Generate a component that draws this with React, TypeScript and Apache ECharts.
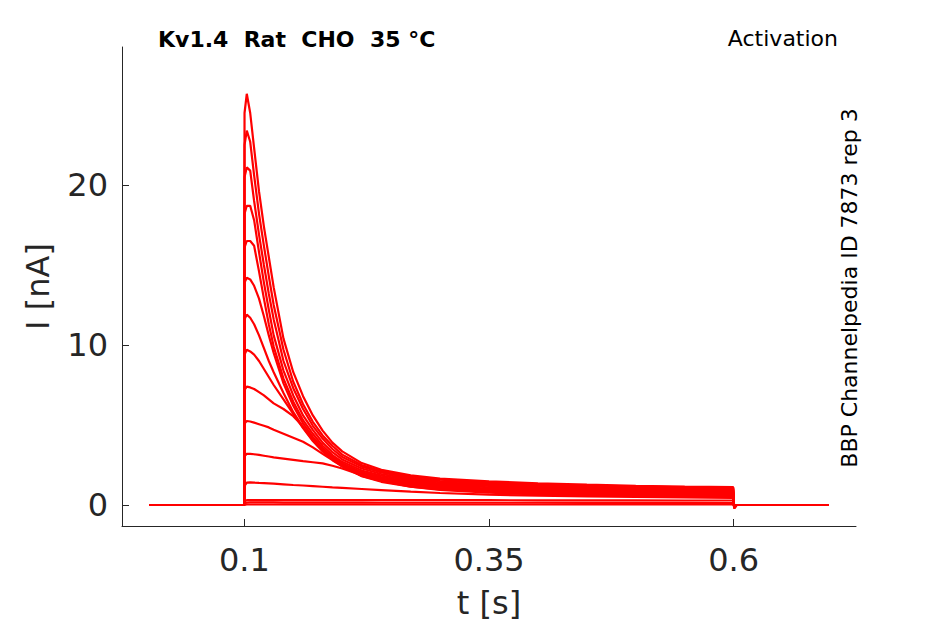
import React, { useEffect, useRef } from "react";
import * as echarts from "echarts";

const TITLE = "Kv1.4  Rat  CHO  35 °C";
const PROTOCOL = "Activation";
const SOURCE = "BBP Channelpedia ID 7873 rep 3";
const X_NAME = "t [s]";
const Y_NAME = "I [nA]";
const X_TICKS = [0.1, 0.35, 0.6];
const Y_TICKS = [0, 10, 20];

// time samples (s)
const TIME = [0.003, 0.0998, 0.1002, 0.1025, 0.106, 0.11, 0.115, 0.12, 0.125, 0.13, 0.14, 0.15, 0.16, 0.17, 0.18, 0.19, 0.2, 0.22, 0.24, 0.27, 0.3, 0.35, 0.4, 0.45, 0.5, 0.55, 0.5995, 0.6005, 0.603, 0.697];

// current sweeps (nA)
const sweep1 = [0, 0, 24.5, 25.7, 24.5, 22.3, 19.6, 17.4, 15.5, 13.6, 10.4, 8.3, 6.8, 5.6, 4.65, 3.9, 3.35, 2.62, 2.2, 1.85, 1.65, 1.48, 1.35, 1.27, 1.2, 1.15, 1.12, -0.2, 0, 0];
const sweep2 = [0, 0, 22.5, 23.4, 22.7, 20.6, 18.2, 16.2, 14.3, 12.5, 9.7, 7.7, 6.3, 5.2, 4.35, 3.7, 3.15, 2.5, 2.12, 1.78, 1.58, 1.42, 1.3, 1.22, 1.16, 1.11, 1.08, -0.2, 0, 0];
const sweep3 = [0, 0, 20.5, 21.1, 20.9, 19.0, 16.9, 15.0, 13.2, 11.6, 9.0, 7.3, 6.0, 4.95, 4.15, 3.5, 3.0, 2.4, 2.04, 1.7, 1.5, 1.35, 1.24, 1.16, 1.1, 1.06, 1.03, -0.2, 0, 0];
const sweep4 = [0, 0, 18.2, 18.7, 18.7, 17.8, 15.8, 13.9, 12.2, 10.6, 8.4, 6.85, 5.6, 4.7, 3.9, 3.3, 2.85, 2.28, 1.94, 1.62, 1.42, 1.27, 1.17, 1.1, 1.04, 1.0, 0.97, -0.2, 0, 0];
const sweep5 = [0, 0, 16.1, 16.5, 16.5, 16.2, 14.6, 12.9, 11.3, 9.9, 7.9, 6.45, 5.3, 4.45, 3.7, 3.12, 2.7, 2.15, 1.84, 1.54, 1.34, 1.19, 1.09, 1.03, 0.97, 0.93, 0.9, -0.2, 0, 0];
const sweep6 = [0, 0, 13.9, 14.2, 14.1, 13.7, 12.9, 11.8, 10.6, 9.5, 7.6, 6.2, 5.1, 4.25, 3.55, 3.0, 2.6, 2.05, 1.74, 1.45, 1.26, 1.11, 1.01, 0.95, 0.9, 0.86, 0.83, -0.15, 0, 0];
const sweep7 = [0, 0, 11.6, 11.9, 11.7, 11.3, 10.6, 9.8, 9.0, 8.3, 7.0, 5.8, 4.85, 4.05, 3.4, 2.9, 2.5, 1.96, 1.65, 1.37, 1.18, 1.03, 0.93, 0.87, 0.82, 0.78, 0.76, -0.15, 0, 0];
const sweep8 = [0, 0, 9.4, 9.7, 9.6, 9.4, 9.0, 8.5, 8.0, 7.5, 6.6, 5.7, 4.8, 4.0, 3.35, 2.85, 2.42, 1.88, 1.57, 1.29, 1.1, 0.96, 0.86, 0.8, 0.75, 0.71, 0.69, -0.15, 0, 0];
const sweep9 = [0, 0, 7.2, 7.4, 7.35, 7.25, 7.05, 6.85, 6.6, 6.35, 6.0, 5.55, 4.9, 4.15, 3.45, 2.9, 2.42, 1.82, 1.5, 1.22, 1.03, 0.89, 0.79, 0.73, 0.68, 0.65, 0.62, -0.15, 0, 0];
const sweep10 = [0, 0, 5.1, 5.25, 5.22, 5.15, 5.05, 4.95, 4.85, 4.7, 4.45, 4.2, 3.95, 3.6, 3.2, 2.8, 2.42, 1.8, 1.45, 1.15, 0.97, 0.82, 0.72, 0.66, 0.61, 0.57, 0.55, -0.1, 0, 0];
const sweep11 = [0, 0, 3.05, 3.2, 3.2, 3.17, 3.13, 3.08, 3.03, 2.98, 2.9, 2.82, 2.74, 2.67, 2.6, 2.45, 2.28, 1.86, 1.5, 1.14, 0.94, 0.77, 0.67, 0.6, 0.56, 0.52, 0.5, -0.1, 0, 0];
const sweep12 = [0, 0, 1.2, 1.4, 1.42, 1.4, 1.38, 1.37, 1.35, 1.33, 1.29, 1.25, 1.22, 1.18, 1.14, 1.1, 1.07, 1.0, 0.93, 0.83, 0.75, 0.65, 0.58, 0.53, 0.5, 0.47, 0.45, -0.1, 0, 0];
const sweep13 = [0, 0, 0.25, 0.3, 0.31, 0.31, 0.31, 0.31, 0.31, 0.31, 0.31, 0.3, 0.3, 0.3, 0.3, 0.3, 0.3, 0.3, 0.3, 0.3, 0.3, 0.3, 0.29, 0.29, 0.29, 0.28, 0.28, -0.05, 0, 0];
const sweep14 = [0, 0, 0.12, 0.15, 0.16, 0.16, 0.16, 0.16, 0.16, 0.16, 0.15, 0.15, 0.15, 0.15, 0.15, 0.15, 0.15, 0.15, 0.14, 0.14, 0.14, 0.14, 0.14, 0.13, 0.13, 0.13, 0.12, -0.05, 0, 0];
const sweep15 = [0, 0, 0.02, 0.03, 0.03, 0.03, 0.03, 0.03, 0.03, 0.03, 0.03, 0.03, 0.03, 0.03, 0.03, 0.03, 0.03, 0.03, 0.03, 0.03, 0.03, 0.03, 0.03, 0.03, 0.03, 0.03, 0.03, 0, 0, 0];

const SWEEPS = [sweep1, sweep2, sweep3, sweep4, sweep5, sweep6, sweep7, sweep8, sweep9, sweep10, sweep11, sweep12, sweep13, sweep14, sweep15];

const FONT = '"DejaVu Sans", "Liberation Sans", sans-serif';
const AXIS_COLOR = "#262626";

export default function App() {
  const ref = useRef<HTMLDivElement>(null);

  useEffect(() => {
    if (!ref.current) return;
    const chart = echarts.init(ref.current, undefined, { renderer: "svg" });

    const series = SWEEPS.map((s, i) => ({
      name: "sweep" + (i + 1),
      type: "line",
      data: TIME.map((t, j) => [t, s[j]]),
      symbol: "none",
      lineStyle: { color: "#ff0000", width: 2.2 },
      itemStyle: { color: "#ff0000" },
      emphasis: { disabled: true },
      silent: true,
    }));

    chart.setOption({
      animation: false,
      backgroundColor: "#ffffff",
      grid: { left: 122, right: 89, top: 47, bottom: 98, containLabel: false },
      xAxis: {
        type: "value",
        min: -0.025,
        max: 0.725,
        name: X_NAME,
        nameLocation: "middle",
        nameGap: 61,
        nameTextStyle: { fontFamily: FONT, fontSize: 32, color: AXIS_COLOR },
        axisLine: { show: true, onZero: false, lineStyle: { color: AXIS_COLOR, width: 1 } },
        axisTick: { show: true, inside: true, length: 7, customValues: X_TICKS, lineStyle: { color: AXIS_COLOR } },
        axisLabel: { show: true, customValues: X_TICKS, fontFamily: FONT, fontSize: 32, color: AXIS_COLOR, margin: 18 },
        splitLine: { show: false },
      },
      yAxis: {
        type: "value",
        min: -1.3125,
        max: 28.625,
        name: Y_NAME,
        nameLocation: "middle",
        nameGap: 68,
        nameTextStyle: { fontFamily: FONT, fontSize: 32, color: AXIS_COLOR },
        axisLine: { show: true, onZero: false, lineStyle: { color: AXIS_COLOR, width: 1 } },
        axisTick: { show: true, inside: true, length: 7, customValues: Y_TICKS, lineStyle: { color: AXIS_COLOR } },
        axisLabel: { show: true, customValues: Y_TICKS, fontFamily: FONT, fontSize: 32, color: AXIS_COLOR, margin: 14 },
        splitLine: { show: false },
      },
      graphic: [
        {
          type: "text",
          x: 158,
          y: 39,
          style: {
            text: TITLE,
            font: `bold 22px ${FONT}`,
            fill: "#000000",
            align: "left",
            textAlign: "left",
            verticalAlign: "middle",
            textVerticalAlign: "middle",
          },
        },
        {
          type: "text",
          x: 838,
          y: 38,
          style: {
            text: PROTOCOL,
            font: `22px ${FONT}`,
            fill: "#000000",
            align: "right",
            textAlign: "right",
            verticalAlign: "middle",
            textVerticalAlign: "middle",
          },
        },
        {
          type: "text",
          x: 849,
          y: 288,
          rotation: Math.PI / 2,
          style: {
            text: SOURCE,
            font: `22px ${FONT}`,
            fill: "#000000",
            align: "center",
            textAlign: "center",
            verticalAlign: "middle",
            textVerticalAlign: "middle",
          },
        },
      ],
      series,
    });

    return () => chart.dispose();
  }, []);

  return (
    <div
      ref={ref}
      style={{ position: "fixed", left: 0, top: 0, width: 945, height: 624, background: "#fff" }}
    />
  );
}
